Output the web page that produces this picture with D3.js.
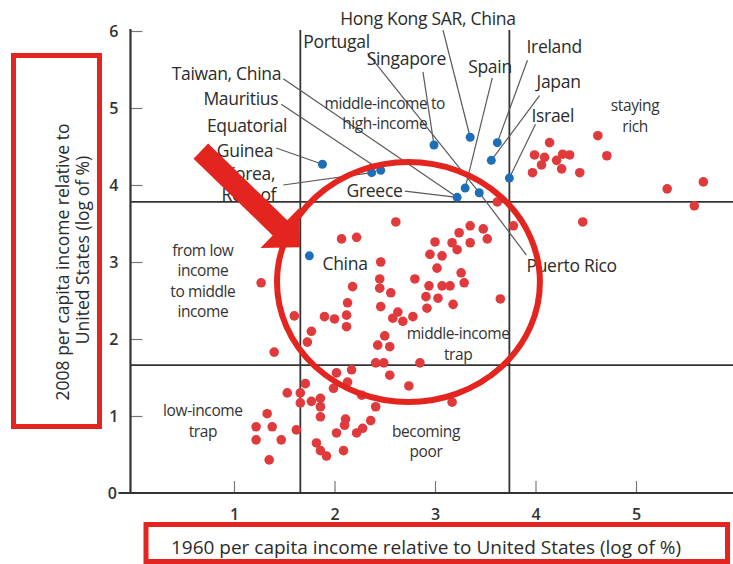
<!DOCTYPE html>
<html><head><meta charset="utf-8">
<script src="https://cdn.jsdelivr.net/npm/d3@7"></script>
<style>body{margin:0;background:#fff} svg{display:block} text{font-family:"Open Sans",sans-serif}</style>
</head><body><svg id="c" width="733" height="564"></svg>
<script>
// ---------- data ----------
const xTicks = [1, 2, 3, 4, 5, 6];
const yTicks = [0, 1, 2, 3, 4, 5, 6];
const xThresholds = [1.66, 3.74];
const yThresholds = [1.66, 3.78];

const redX = [4.14,4.62,3.99,4.09,4.27,4.34,4.06,4.21,4.26,3.97,4.44,4.71,5.31,5.67,5.58,4.47,3.78,3.62,
  2.61,3.35,3.24,3.48,3.52,3.00,3.17,3.22,3.35,2.95,3.07,2.46,3.02,3.26,2.45,2.80,2.45,2.56,2.94,3.07,3.15,3.29,
  2.91,3.03,3.65,3.18,2.46,2.92,2.63,2.58,2.68,2.78,2.50,2.07,2.22,1.27,2.18,2.13,2.12,1.90,2.00,2.12,1.60,1.77,
  2.43,2.55,1.40,1.73,2.41,2.49,2.55,2.17,2.02,2.13,1.71,1.99,1.53,1.66,1.66,1.77,1.86,1.86,1.86,2.27,2.41,2.11,
  2.10,2.36,2.28,2.22,2.02,1.33,1.22,1.38,1.22,1.47,1.62,1.82,1.86,1.92,2.09,1.35,2.74,3.17,2.85];
const redY = [4.55,4.64,4.39,4.36,4.40,4.39,4.26,4.32,4.21,4.16,4.16,4.38,3.95,4.04,3.73,3.52,3.47,3.78,
  3.52,3.47,3.38,3.43,3.30,3.26,3.25,3.16,3.25,3.10,3.08,3.00,2.92,2.86,2.78,2.78,2.66,2.60,2.69,2.69,2.69,2.73,
  2.55,2.53,2.52,2.45,2.42,2.40,2.35,2.27,2.23,2.29,2.04,3.30,3.32,2.73,2.68,2.47,2.31,2.29,2.26,2.16,2.30,2.10,
  1.92,1.90,1.83,1.96,1.69,1.69,1.53,1.60,1.56,1.44,1.42,1.36,1.30,1.30,1.17,1.19,1.23,1.12,0.99,1.27,1.12,0.96,
  0.88,0.94,0.84,0.78,0.78,1.03,0.86,0.86,0.69,0.69,0.82,0.65,0.55,0.48,0.55,0.43,1.39,1.18,1.69];

const blueNames = ["Equatorial Guinea","Korea, Rep. of","Mauritius","Singapore","Hong Kong SAR, China",
  "Ireland","Japan","Israel","Spain","Puerto Rico","Greece","China"];
const blueX = [1.88,2.37,2.46,2.99,3.35,3.62,3.56,3.74,3.30,3.44,3.22,1.75];
const blueY = [4.27,4.16,4.19,4.52,4.62,4.55,4.32,4.09,3.96,3.90,3.84,3.08];

// ---------- annotation layout ----------
const countryLabels = [
  {t:"Hong Kong SAR, China", x:2.93, y:6.08, a:"middle"},
  {t:"Portugal", x:1.69, y:5.78, a:"start"},
  {t:"Singapore", x:2.32, y:5.56, a:"start"},
  {t:"Spain", x:3.33, y:5.45, a:"start"},
  {t:"Ireland", x:3.91, y:5.71, a:"start"},
  {t:"Japan", x:4.01, y:5.26, a:"start"},
  {t:"Israel", x:3.96, y:4.82, a:"start"},
  {t:"Taiwan, China", x:1.47, y:5.36, a:"end"},
  {t:"Mauritius", x:1.44, y:5.04, a:"end"},
  {t:"Equatorial", x:1.53, y:4.69, a:"end"},
  {t:"Guinea", x:1.39, y:4.36, a:"end"},
  {t:"Korea,", x:1.41, y:4.07, a:"end"},
  {t:"Rep. of", x:1.42, y:3.79, a:"end"},
  {t:"Greece", x:2.12, y:3.84, a:"start"},
  {t:"Puerto Rico", x:3.91, y:2.87, a:"start"},
  {t:"China", x:1.88, y:2.90, a:"start"}
];
const leaders = [
  {fx:3.08, fy:6.01, to:4}, {fx:2.33, fy:5.71, to:9}, {fx:2.88, fy:5.47, to:3},
  {fx:3.57, fy:5.39, to:8}, {fx:3.92, fy:5.62, to:5}, {fx:4.04, fy:5.16, to:6},
  {fx:4.00, fy:4.79, to:7}, {fx:1.49, fy:5.38, to:10}, {fx:1.47, fy:5.05, to:2},
  {fx:1.42, fy:4.48, to:0}, {fx:1.49, fy:4.00, to:1}, {fx:2.70, fy:3.92, to:10},
  {fx:3.91, fy:3.09, to:9}
];
const regionLabels = [
  {lines:["middle-income to","high-income"], x:2.50, y:4.99},
  {lines:["staying","rich"], x:4.99, y:4.96},
  {lines:["from low","income","to middle","income"], x:0.69, y:3.08},
  {lines:["middle-income","trap"], x:3.23, y:2.00},
  {lines:["low-income","trap"], x:0.69, y:1.00},
  {lines:["becoming","poor"], x:2.91, y:0.73}
];

// ---------- drawing ----------
const svg = d3.select("#c");
const x = d3.scaleLinear().domain([0, 6]).range([133.5, 736.5]);
const y = d3.scaleLinear().domain([0, 6]).range([493, 31]);
const RED = "#e3241f", DOT = "#e03a3c", BLUE = "#1d70b5", INK = "#2b2b2b";

// axis title boxes
svg.append("rect").attr("x",13.5).attr("y",55.5).attr("width",86).attr("height",371)
  .attr("fill","#fff").attr("stroke",RED).attr("stroke-width",5);
svg.append("rect").attr("x",146).attr("y",524.5).attr("width",581.5).attr("height",37)
  .attr("fill","#fff").attr("stroke",RED).attr("stroke-width",5);
const yt = svg.append("g").attr("fill",INK).attr("font-size",17.5).attr("text-anchor","middle");
yt.append("text").attr("transform","translate(62,262) rotate(-90)").attr("dominant-baseline","central")
  .text("2008 per capita income relative to");
yt.append("text").attr("transform","translate(82,250) rotate(-90)").attr("dominant-baseline","central")
  .text("United States (log of %)");
svg.append("text").attr("x",426).attr("y",547).attr("dominant-baseline","central")
  .attr("text-anchor","middle").attr("font-size",19).attr("fill",INK)
  .text("1960 per capita income relative to United States (log of %)");

// threshold lines
const g = svg.append("g");
g.selectAll(".vt").data(xThresholds).join("line")
  .attr("x1",d=>x(d)).attr("x2",d=>x(d)).attr("y1",y(6)-1).attr("y2",y(0))
  .attr("stroke","#333").attr("stroke-width",1.8);
g.selectAll(".ht").data(yThresholds).join("line")
  .attr("x1",x(-0.03)).attr("x2",733).attr("y1",d=>y(d)).attr("y2",d=>y(d))
  .attr("stroke","#333").attr("stroke-width",1.8);

// axes
const xAxis = d3.axisBottom(x).tickValues(xTicks).tickSize(-12).tickPadding(16).tickFormat(d3.format("d"));
const yAxis = d3.axisLeft(y).tickValues(yTicks.filter(d=>d>0)).tickSize(-12).tickPadding(12).tickFormat(d3.format("d"));
const gx = svg.append("g").attr("transform",`translate(0,${y(0)})`).call(xAxis);
const gy = svg.append("g").attr("transform",`translate(${x(-0.03)},0)`).call(yAxis);
[gx, gy].forEach(a => {
  a.select(".domain").remove();
  a.selectAll(".tick line").attr("stroke","#777").attr("stroke-width",1.2);
  a.selectAll(".tick text").attr("font-size",16).attr("font-weight",600).attr("fill","#333")
    .attr("font-family","'Open Sans',sans-serif");
});
svg.append("line").attr("x1",x(-0.15)).attr("x2",733).attr("y1",y(0)).attr("y2",y(0))
  .attr("stroke","#333").attr("stroke-width",2.2);
svg.append("line").attr("x1",x(-0.03)).attr("x2",x(-0.03)).attr("y1",y(6)-2).attr("y2",y(0))
  .attr("stroke","#333").attr("stroke-width",2.2);
svg.append("text").attr("x",x(-0.21)).attr("y",y(0)).attr("dominant-baseline","central")
  .attr("text-anchor","middle").attr("font-size",16).attr("font-weight",600).attr("fill","#333").text("0");

// leader lines
svg.append("g").selectAll("line").data(leaders).join("line")
  .attr("x1",d=>x(d.fx)).attr("y1",d=>y(d.fy))
  .attr("x2",d=>x(blueX[d.to])).attr("y2",d=>y(blueY[d.to]))
  .attr("stroke","#5a5a5a").attr("stroke-width",1.2);

// points
svg.append("g").selectAll("circle").data(redX.map((v,i)=>[v,redY[i]])).join("circle")
  .attr("cx",d=>x(d[0])).attr("cy",d=>y(d[1])).attr("r",4.8).attr("fill",DOT);
svg.append("g").selectAll("circle").data(blueX.map((v,i)=>[v,blueY[i],blueNames[i]])).join("circle")
  .attr("cx",d=>x(d[0])).attr("cy",d=>y(d[1])).attr("r",4.5).attr("fill",BLUE);

// country labels
svg.append("g").selectAll("text").data(countryLabels).join("text")
  .attr("x",d=>x(d.x)).attr("y",d=>y(d.y)).attr("text-anchor",d=>d.a)
  .attr("font-size",17.5).attr("fill",INK).attr("letter-spacing",-0.3).text(d=>d.t);

// region labels
const rg = svg.append("g").attr("font-size",15.5).attr("fill","#333").attr("text-anchor","middle");
regionLabels.forEach(r => {
  const t = rg.append("text").attr("x",x(r.x)).attr("y",y(r.y)).attr("letter-spacing",-0.4);
  r.lines.forEach((l,i)=> t.append("tspan").attr("x",x(r.x)).attr("dy",i===0?0:20.5).text(l));
});

// big red circle
svg.append("ellipse").attr("cx",x(2.736)).attr("cy",y(2.74))
  .attr("rx",x(2.736+1.308)-x(2.736)).attr("ry",y(2.74)-y(2.74+1.558))
  .attr("fill","none").attr("stroke",RED).attr("stroke-width",6);

// big red arrow
const tail = [x(0.67), y(4.44)], tip = [x(1.657), y(3.19)];
const dx = tip[0]-tail[0], dy = tip[1]-tail[1], L = Math.hypot(dx,dy);
const u = [dx/L, dy/L], p = [-u[1], u[0]];
const head = 28, hw = 28, sw = 10.5;
const bc = [tip[0]-u[0]*head, tip[1]-u[1]*head];
const pt = (b,k)=>[b[0]+p[0]*k, b[1]+p[1]*k];
const poly = [pt(tail,sw), pt(bc,sw), pt(bc,hw), tip, pt(bc,-hw), pt(bc,-sw), pt(tail,-sw)];
svg.append("path").attr("d", d3.line()(poly)+"Z").attr("fill",RED);
</script></body></html>
